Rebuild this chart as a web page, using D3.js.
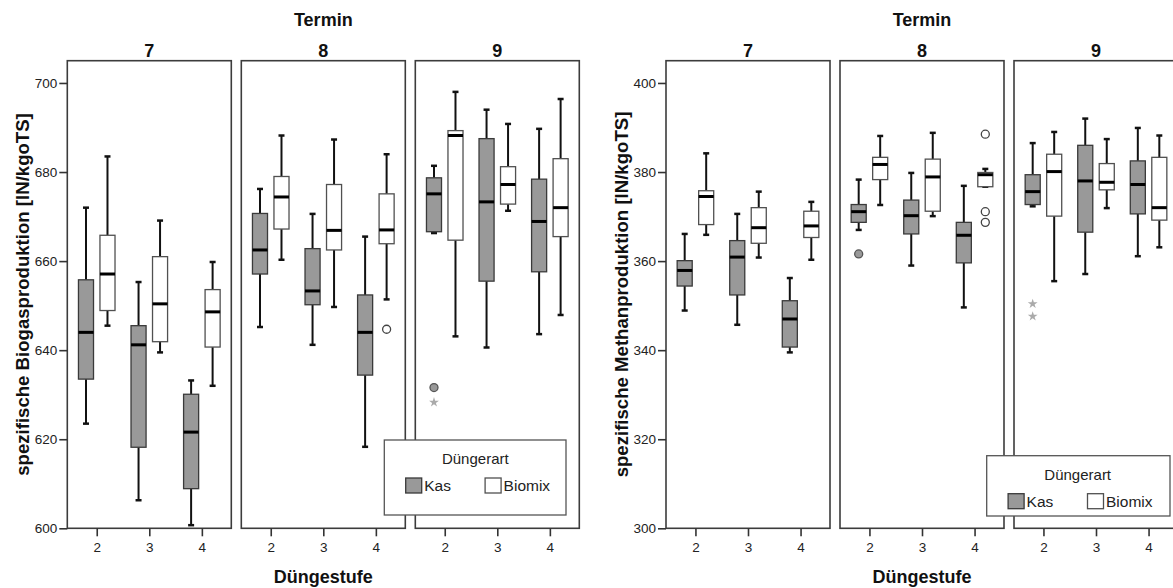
<!DOCTYPE html>
<html><head><meta charset="utf-8">
<script src="https://cdn.jsdelivr.net/npm/d3@7"></script>
<style>
body{margin:0;background:#fff}
text{font-family:"Liberation Sans",Arial,sans-serif}
</style>
</head><body>
<svg id="c" width="1173" height="588"></svg>
<script>
// ---- data ----
const termine = ["7", "8", "9"];
const stufen = ["2", "3", "4"];
const serien = ["Kas", "Biomix"];
const biogasTicks = [600, 620, 640, 660, 680, 700];
const methanTicks = [300, 320, 340, 360, 380, 400];

// rows: [lower whisker, Q1, median, Q3, upper whisker]
// order: Termin 7 (Stufe 2,3,4), Termin 8 (2,3,4), Termin 9 (2,3,4)
const biogasKas = [
  [623.5, 633.5, 644.0, 655.8, 672.0],
  [606.3, 618.2, 641.2, 645.5, 655.3],
  [600.7, 608.9, 621.6, 630.1, 633.2],
  [645.2, 657.1, 662.5, 670.7, 676.2],
  [641.2, 650.2, 653.3, 662.8, 670.6],
  [618.3, 634.4, 644.0, 652.4, 665.5],
  [666.3, 666.6, 675.1, 678.7, 681.4],
  [640.6, 655.5, 673.3, 687.5, 694.0],
  [643.6, 657.6, 668.9, 678.4, 689.7]
];
const biogasBiomix = [
  [645.5, 648.9, 657.1, 665.8, 683.5],
  [639.5, 641.9, 650.4, 661.0, 669.1],
  [632.0, 640.7, 648.6, 653.6, 659.8],
  [660.3, 667.2, 674.4, 679.0, 688.2],
  [649.7, 662.5, 666.9, 677.2, 687.3],
  [651.4, 663.9, 667.0, 675.1, 684.0],
  [643.1, 664.7, 688.2, 689.3, 698.0],
  [671.3, 672.8, 677.2, 681.2, 690.8],
  [647.9, 665.5, 672.0, 683.0, 696.4]
];
const methanKas = [
  [348.9, 354.4, 357.9, 360.1, 366.1],
  [345.7, 352.4, 360.9, 364.6, 370.6],
  [339.5, 340.7, 347.0, 351.1, 356.2],
  [367.0, 368.7, 371.1, 372.7, 378.3],
  [359.0, 366.1, 370.2, 373.7, 379.8],
  [349.6, 359.6, 365.8, 368.7, 376.9],
  [372.3, 372.7, 375.6, 379.4, 386.5],
  [357.1, 366.5, 378.0, 386.0, 392.0],
  [361.1, 370.6, 377.2, 382.5, 389.9]
];
const methanBiomix = [
  [365.9, 368.2, 374.5, 375.8, 384.2],
  [360.8, 364.0, 367.5, 372.0, 375.6],
  [360.3, 365.3, 367.9, 371.2, 373.3],
  [372.6, 378.3, 381.7, 383.3, 388.1],
  [370.1, 371.2, 378.9, 382.9, 388.8],
  [376.7, 376.7, 379.4, 379.9, 380.7],
  [355.5, 370.1, 380.1, 384.0, 389.0],
  [371.9, 376.0, 377.7, 381.9, 387.4],
  [363.1, 369.2, 372.0, 383.3, 388.2]
];
// outliers: [Termin, Düngestufe, Düngerart, value, kind]
const biogasOutliers = [
  ["8", "4", "Biomix", 644.7, "circle"],
  ["9", "2", "Kas", 631.6, "circle"],
  ["9", "2", "Kas", 628.3, "star"]
];
const methanOutliers = [
  ["8", "2", "Kas", 361.6, "circle"],
  ["8", "4", "Biomix", 388.5, "circle"],
  ["8", "4", "Biomix", 371.1, "circle"],
  ["8", "4", "Biomix", 368.7, "circle"],
  ["9", "2", "Kas", 350.4, "star"],
  ["9", "2", "Kas", 347.6, "star"]
];

// ---- drawing ----
const svg = d3.select("#c");
const fills = {Kas: "#999999", Biomix: "#ffffff"};
const strokes = {Kas: "#3a3a3a", Biomix: "#505050"};
const FONT_B = 18;
const FONT_T = 13.5;

function drawChart(o) {
  const g = svg.append("g");
  const panel = d3.scaleBand().domain(termine).range([o.left, o.right]).paddingInner(0.0575);
  const y = d3.scaleLinear().domain(o.yDomain).range([528.3, 60.7]);
  const series = {Kas: o.kas, Biomix: o.biomix};
  const x1 = d3.scaleBand().domain(serien).range([-21.5, 21.5]);
  const bw = x1.bandwidth() * 0.7;
  const capW = 6;

  g.append("text").attr("x", (o.left + o.right) / 2).attr("y", 25.5)
    .attr("text-anchor", "middle").attr("font-weight", "bold").attr("font-size", FONT_B)
    .attr("fill", "#111").text("Termin");
  g.append("text").attr("x", (o.left + o.right) / 2).attr("y", 582.5)
    .attr("text-anchor", "middle").attr("font-weight", "bold").attr("font-size", FONT_B)
    .attr("fill", "#111").text("Düngestufe");
  g.append("text").attr("transform", `translate(${o.yLabelX},294.5) rotate(-90)`)
    .attr("text-anchor", "middle").attr("dominant-baseline", "central")
    .attr("font-weight", "bold").attr("font-size", 18.6).attr("fill", "#111").text(o.yLabel);

  termine.forEach((t, ti) => {
    const px = panel(t), pw = panel.bandwidth();
    const pg = g.append("g");
    pg.append("rect").attr("x", px).attr("y", y(o.yDomain[1])).attr("width", pw)
      .attr("height", y(o.yDomain[0]) - y(o.yDomain[1]))
      .attr("fill", "#fff").attr("stroke", "#3c3c3c").attr("stroke-width", 1.6);
    pg.append("text").attr("x", px + pw / 2).attr("y", 57).attr("text-anchor", "middle")
      .attr("font-weight", "bold").attr("font-size", FONT_B).attr("fill", "#111").text(t);

    const xs = d3.scalePoint().domain(stufen).range([px, px + pw]).padding(0.56);

    const xa = pg.append("g").attr("transform", `translate(0,${y(o.yDomain[0])})`)
      .call(d3.axisBottom(xs).tickSize(8).tickPadding(6));
    xa.select(".domain").remove();
    xa.selectAll(".tick line").attr("stroke", "#333").attr("stroke-width", 1.6);
    xa.selectAll(".tick text").attr("font-size", FONT_T).attr("fill", "#222")
      .attr("font-family", '"Liberation Sans",Arial,sans-serif');

    if (ti === 0) {
      const ya = pg.append("g").attr("transform", `translate(${px},0)`)
        .call(d3.axisLeft(y).tickValues(o.ticks).tickSize(8).tickPadding(2));
      ya.select(".domain").remove();
      ya.selectAll(".tick line").attr("stroke", "#333").attr("stroke-width", 1.6);
      ya.selectAll(".tick text").attr("font-size", FONT_T).attr("fill", "#222")
        .attr("font-family", '"Liberation Sans",Arial,sans-serif');
    }

    stufen.forEach((s, si) => {
      serien.forEach(ser => {
        const r = series[ser][ti * 3 + si];
        const cx = xs(s) + x1(ser) + x1.bandwidth() / 2;
        const bg = pg.append("g");
        bg.append("line").attr("x1", cx).attr("x2", cx).attr("y1", y(r[0])).attr("y2", y(r[1]))
          .attr("stroke", "#111").attr("stroke-width", 2);
        bg.append("line").attr("x1", cx).attr("x2", cx).attr("y1", y(r[3])).attr("y2", y(r[4]))
          .attr("stroke", "#111").attr("stroke-width", 2);
        [r[0], r[4]].forEach(v => {
          bg.append("line").attr("x1", cx - capW / 2).attr("x2", cx + capW / 2)
            .attr("y1", y(v)).attr("y2", y(v)).attr("stroke", "#111").attr("stroke-width", 2.5);
        });
        bg.append("rect").attr("x", cx - bw / 2).attr("y", y(r[3])).attr("width", bw)
          .attr("height", Math.max(0.5, y(r[1]) - y(r[3])))
          .attr("fill", fills[ser]).attr("stroke", strokes[ser]).attr("stroke-width", 1.3);
        bg.append("line").attr("x1", cx - bw / 2).attr("x2", cx + bw / 2)
          .attr("y1", y(r[2])).attr("y2", y(r[2])).attr("stroke", "#000").attr("stroke-width", 3);
      });
    });

    o.outliers.filter(d => d[0] === t).forEach(d => {
      const cx = xs(d[1]) + x1(d[2]) + x1.bandwidth() / 2;
      if (d[4] === "circle") {
        pg.append("circle").attr("cx", cx).attr("cy", y(d[3])).attr("r", 4)
          .attr("fill", fills[d[2]]).attr("stroke", d[2] === "Kas" ? "#555" : "#444")
          .attr("stroke-width", 1.3);
      } else {
        pg.append("path").attr("d", d3.symbol().type(d3.symbolStar).size(30)())
          .attr("transform", `translate(${cx},${y(d[3])})`).attr("fill", "#aaa");
      }
    });
  });

  // legend
  const L = o.legend;
  const lg = g.append("g").attr("transform", `translate(${L.x},${L.y})`);
  lg.append("rect").attr("width", L.w).attr("height", L.h).attr("fill", "#fff")
    .attr("stroke", "#555").attr("stroke-width", 1.3);
  lg.append("text").attr("x", 91).attr("y", L.titleY).attr("text-anchor", "middle")
    .attr("dominant-baseline", "central").attr("font-size", 15).attr("fill", "#222").text("Düngerart");
  const lx = d3.scaleOrdinal().domain(serien).range([21.4, 100.8]);
  serien.forEach(ser => {
    lg.append("rect").attr("x", lx(ser)).attr("y", L.itemY - 7.5).attr("width", 16).attr("height", 15)
      .attr("fill", fills[ser]).attr("stroke", strokes[ser]).attr("stroke-width", 1.3);
    lg.append("text").attr("x", lx(ser) + 18.5).attr("y", L.itemY).attr("dominant-baseline", "central")
      .attr("font-size", 15.5).attr("fill", "#222").text(ser);
  });
}

drawChart({
  left: 67.3, right: 579.3, yDomain: [600, 705], ticks: biogasTicks,
  kas: biogasKas, biomix: biogasBiomix, outliers: biogasOutliers,
  yLabel: "spezifische Biogasproduktion [lN/kgoTS]", yLabelX: 22,
  legend: {x: 384.3, y: 440, w: 181.7, h: 75, titleY: 18, itemY: 45.5}
});
drawChart({
  left: 666, right: 1178, yDomain: [300, 405], ticks: methanTicks,
  kas: methanKas, biomix: methanBiomix, outliers: methanOutliers,
  yLabel: "spezifische Methanproduktion [lN/kgoTS]", yLabelX: 621,
  legend: {x: 986.7, y: 455.7, w: 183.3, h: 60.3, titleY: 19.3, itemY: 45.5}
});
</script>
</body></html>
